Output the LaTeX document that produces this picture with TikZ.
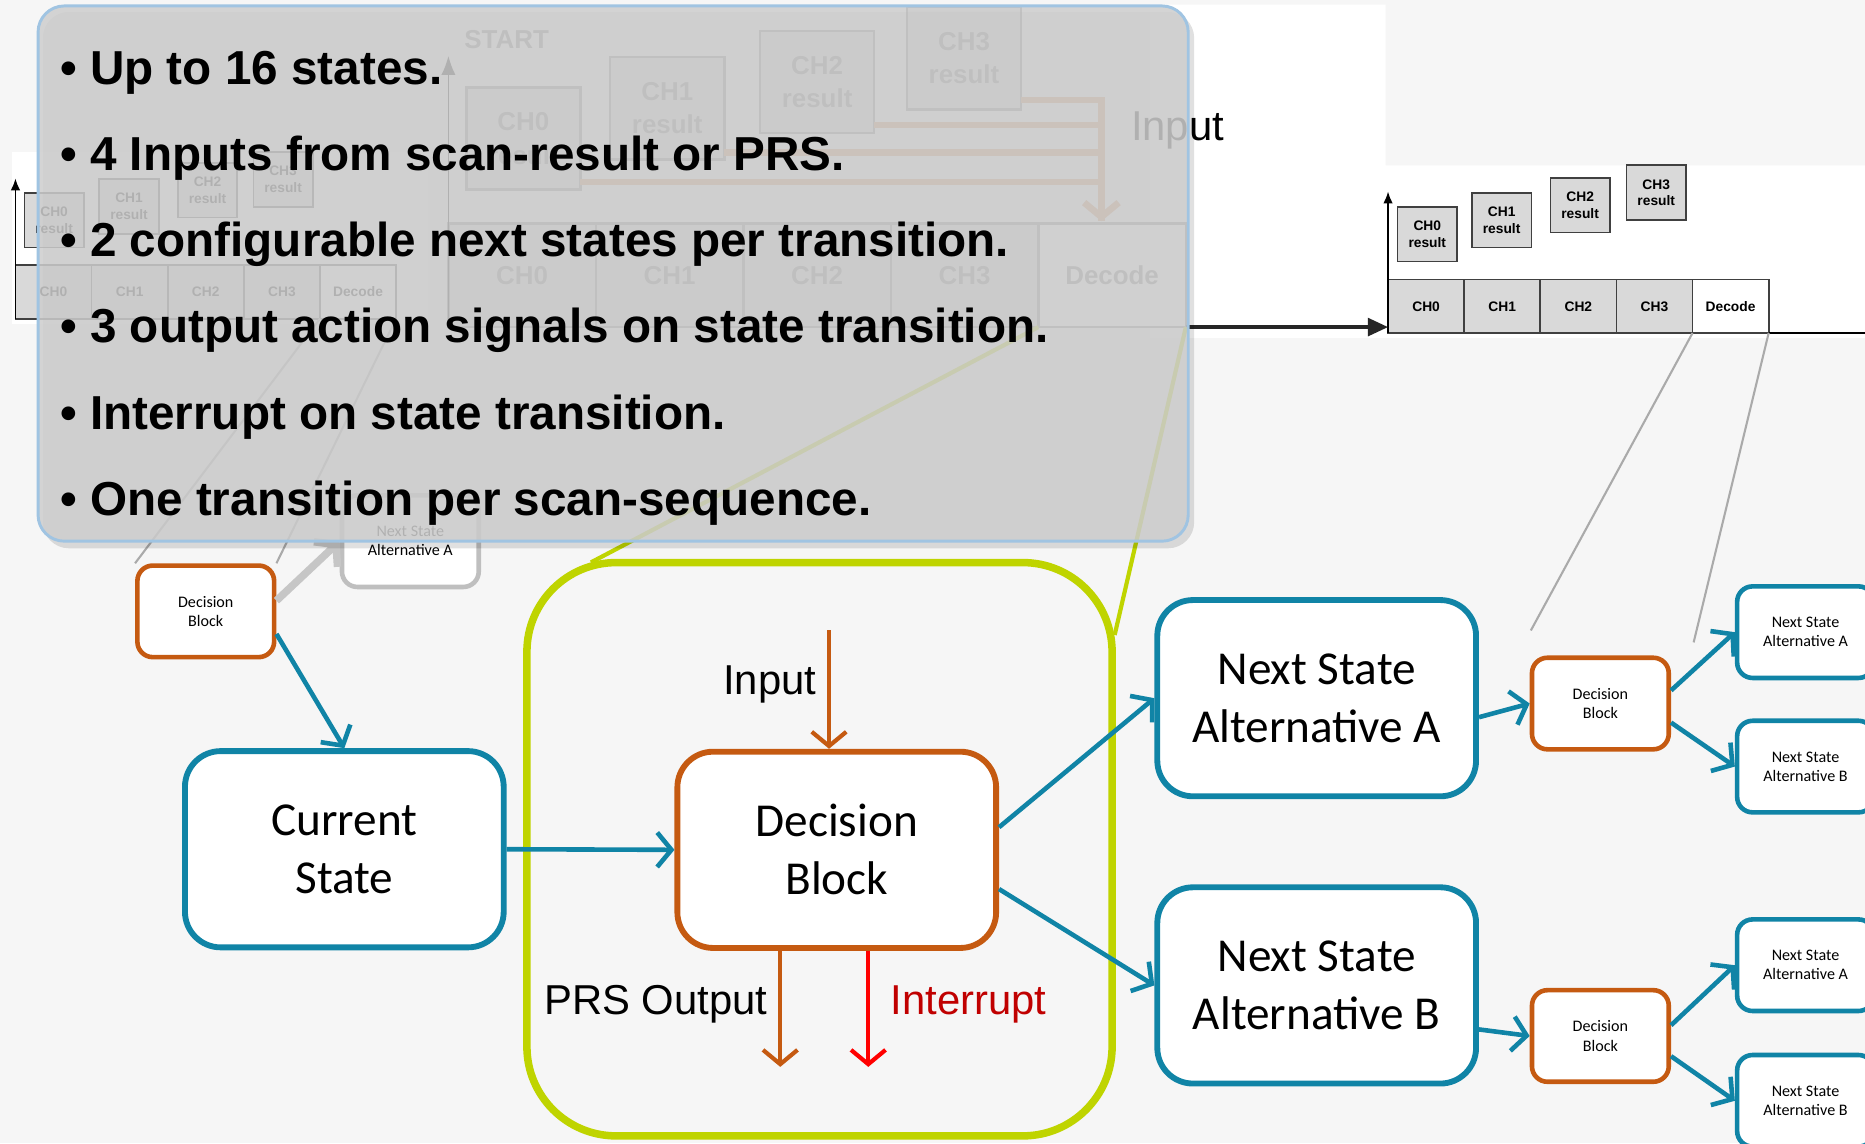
\documentclass[tikz,border=0pt]{standalone}
\usepackage{fontspec}
\setmainfont{Liberation Sans}
\newfontfamily\calibri{Carlito}
\usepackage{tikz}
\usetikzlibrary{positioning}
\usetikzlibrary{arrows.meta, calc}

\definecolor{stateblue}{RGB}{16,132,166}
\definecolor{decorange}{RGB}{197,90,17}
\definecolor{grpgreen}{RGB}{191,212,0}
\definecolor{bggray}{RGB}{246,246,246}
\definecolor{ovlgray}{RGB}{206,206,206}
\definecolor{ovlborder}{RGB}{160,196,226}
\definecolor{intred}{RGB}{192,0,0}
\definecolor{cellgray}{RGB}{217,217,217}
\definecolor{linegray}{RGB}{170,170,170}

\tikzset{
    statebox/.style={draw=stateblue, line width=1.4pt, fill=white, rounded corners=3mm, align=center, inner sep=0,
        font=\calibri\fontsize{11.3}{13.9}\selectfont, minimum width=26.8mm, minimum height=16.5mm},
    decbox/.style={statebox, draw=decorange},
    smallstatebox/.style={draw=stateblue, line width=1.1pt, fill=white, rounded corners=1.3mm, align=center, inner sep=0,
        font=\calibri\fontsize{3.85}{4.6}\selectfont, minimum width=11.5mm, minimum height=7.7mm},
    smalldecbox/.style={smallstatebox, draw=decorange},
    flowarrow/.style={->, draw=stateblue, line width=1.1pt},
    sigarrow/.style={->, draw=decorange, line width=1pt},
    sigtext/.style={inner sep=0.9mm, font=\fontsize{10}{12}\selectfont},
    bulletline/.style={anchor=base west, inner sep=0, font=\bfseries\fontsize{11.4}{13}\selectfont},
    smcell/.style={draw=black!75, fill=cellgray, line width=0.4pt, inner sep=0, outer sep=0,
        minimum width=6.4mm, minimum height=4.5mm, font=\bfseries\fontsize{3.3}{4}\selectfont},
    smres/.style={smcell, minimum width=5mm, minimum height=4.6mm, align=center},
    bigcell/.style={draw=black!50, fill=cellgray, line width=0.6pt, inner sep=0, outer sep=0, text=black!55,
        minimum width=12.4mm, minimum height=8.7mm, font=\bfseries\fontsize{6.2}{8}\selectfont},
    bigres/.style={bigcell, minimum width=9.6mm, minimum height=8.6mm, align=center},
    axisarrow/.style={-{Latex[length=1mm,width=0.8mm]}, line width=0.4pt}
}

\begin{document}
\begin{tikzpicture}[x=0.1mm, y=-0.1mm, >={Straight Barb[length=1.2mm,width=2.9mm]}]
    % Fondo y zonas blancas
    \useasboundingbox (0,0) rectangle (1568,961);
    \fill[bggray] (0,0) rectangle (1568,961);
    \fill[white] (967,4) -- (1165,4) -- (1165,139) -- (1568,139) -- (1568,284) -- (967,284) -- cycle;
    \fill[white] (10,128) rectangle (360,272);

    % Diagrama grande (debajo del recuadro)
    \node[bigcell] (bc0) at (439,231.5) {CH0};
    \node[bigcell, right=0pt of bc0] (bc1) {CH1};
    \node[bigcell, right=0pt of bc1] (bc2) {CH2};
    \node[bigcell, right=0pt of bc2] (bc3) {CH3};
    \node[bigcell, right=0pt of bc3, fill=white] (bc4) {Decode};
    \node[bigres] (br0) at (440,116.5) {CH0\\result};
    \node[bigres] (br1) at (561,91) {CH1\\result};
    \node[bigres] (br2) at (687,69) {CH2\\result};
    \node[bigres] (br3) at (810.5,49) {CH3\\result};
    \node[text=black!55, font=\bfseries\fontsize{6.2}{8}\selectfont] (start) at (426,33) {START};
    \draw[axisarrow, -{Latex[length=1.6mm,width=1.2mm]}] (bc0.south west) -- ++(0,-228);
    \coordinate (bigIn) at (926,186);
    \draw[decorange!70, line width=1.6pt] ($(br2.east)+(0,36)$) -| (bigIn);
    \draw[decorange!70, line width=1.6pt] ($(br1.east)+(0,37)$) -| (bigIn);
    \draw[decorange!70, line width=1.6pt] ($(br0.east)+(0,36.5)$) -| (bigIn);
    \draw[decorange!70, line width=1.6pt, ->] ($(br3.east)+(0,35)$) -| (bigIn);
    \node[sigtext] (topIn) at (990,110) {Input};

    % Diagrama pequeno izquierdo
    \node[smcell] (lc0) at (45,245.5) {CH0};
    \node[smcell, right=0pt of lc0] (lc1) {CH1};
    \node[smcell, right=0pt of lc1] (lc2) {CH2};
    \node[smcell, right=0pt of lc2] (lc3) {CH3};
    \node[smcell, right=0pt of lc3, fill=white] (lc4) {Decode};
    \node[smres] (lr0) at (45.5,185) {CH0\\result};
    \node[smres] (lr1) at (108.5,173.5) {CH1\\result};
    \node[smres] (lr2) at (174.5,160) {CH2\\result};
    \node[smres] (lr3) at (238,151) {CH3\\result};
    \draw[axisarrow] (lc0.south west) -- ++(0,-118);

    % Diagrama pequeno derecho
    \node[smcell] (rc0) at (1199,257.5) {CH0};
    \node[smcell, right=0pt of rc0] (rc1) {CH1};
    \node[smcell, right=0pt of rc1] (rc2) {CH2};
    \node[smcell, right=0pt of rc2] (rc3) {CH3};
    \node[smcell, right=0pt of rc3, fill=white] (rc4) {Decode};
    \node[smres] (rr0) at (1200,197) {CH0\\result};
    \node[smres] (rr1) at (1262.5,185) {CH1\\result};
    \node[smres] (rr2) at (1328.5,172.5) {CH2\\result};
    \node[smres] (rr3) at (1392.5,162) {CH3\\result};
    \draw[axisarrow] (rc0.south west) -- ++(0,-119);
    \draw[line width=0.4pt] (rc4.south east) -- ++(100,0);
    \draw[-{Triangle[length=1.7mm,width=1.5mm]}, line width=0.8pt, black!85] (bc4.south east) -- (bc4.south east -| rc0.west);

    % Bloques principales
    \node[smalldecbox] (decL) at (173,514) {Decision\\Block};
    \node[smallstatebox, draw=gray!50] (nsGray) at (345,455) {Next State\\Alternative A};
    \node[statebox] (cur) at (289.5,714) {Current\\State};
    \node[draw=grpgreen, line width=1.8pt, rounded corners=7.5mm, minimum width=49.2mm, minimum height=48.2mm] (grp) at (689,714) {};
    \node[decbox] (dec) at (703.5,714.5) {Decision\\Block};
    \node[statebox] (nsA) at (1107,587) {Next State\\Alternative A};
    \node[statebox] (nsB) at (1107,828.5) {Next State\\Alternative B};
    \node[smalldecbox] (sdA) at (1345.5,591.5) {Decision\\Block};
    \node[smalldecbox] (sdB) at (1345.5,871) {Decision\\Block};
    \node[smallstatebox] (naa) at (1518,531.5) {Next State\\Alternative A};
    \node[smallstatebox] (nab) at (1518,644.5) {Next State\\Alternative B};
    \node[smallstatebox] (nba) at (1518,811.5) {Next State\\Alternative A};
    \node[smallstatebox] (nbb) at (1518,925.5) {Next State\\Alternative B};

    % Lineas de detalle
    \coordinate (gLeft) at ($(grp.north west)+(57,3)$);
    \coordinate (gRight) at ($(grp.north east)+(-1,64)$);
    \draw[grpgreen, line width=1pt] (bc3.south east) -- (gLeft);
    \draw[grpgreen, line width=1pt] (bc4.south east) -- (gRight);
    \draw[linegray, line width=0.5pt] (lc3.south east) -- (decL.north west);
    \draw[linegray, line width=0.5pt] (lc4.south east) -- (decL.north east);
    \coordinate (sdAl) at ($(sdA.north west)+(1,-21)$);
    \coordinate (sdAr) at ($(sdA.north east)+(19,-11)$);
    \draw[linegray, line width=0.5pt] (rc3.south east) -- (sdAl);
    \draw[linegray, line width=0.5pt] (rc4.south east) -- (sdAr);
    \draw[->, draw=gray!45, line width=1.8pt] ($(decL.east)+(0,-9)$) -- (nsGray.west);

    % Recuadro de texto
    \fill[black, opacity=0.12, rounded corners=2.2mm] (36,10) rectangle (1004,461);
    \draw[draw=ovlborder, line width=0.7pt, fill=ovlgray, fill opacity=0.86, rounded corners=2.2mm] (32,5) rectangle (999,455);
    \node[bulletline] (b1) at (50,71) {\textbullet\ Up to 16 states.};
    \node[bulletline] (b2) at (50,143) {\textbullet\ 4 Inputs from scan-result or PRS.};
    \node[bulletline] (b3) at (50,216) {\textbullet\ 2 configurable next states per transition.};
    \node[bulletline] (b4) at (50,288) {\textbullet\ 3 output action signals on state transition.};
    \node[bulletline] (b5) at (50,361) {\textbullet\ Interrupt on state transition.};
    \node[bulletline] (b6) at (50,433) {\textbullet\ One transition per scan-sequence.};

    % Flechas
    \draw[flowarrow] ($(decL.east)+(0,19)$) -- (cur.north);
    \draw[flowarrow] (cur.east) -- (dec.west);
    \draw[flowarrow] ($(dec.east)+(0,-19)$) -- (nsA.west);
    \draw[flowarrow] ($(dec.east)+(0,33)$) -- (nsB.west);
    \draw[flowarrow] ($(nsA.east)+(0,16)$) -- (sdA.west);
    \draw[flowarrow] ($(sdA.east)+(0,-11)$) -- (naa.west);
    \draw[flowarrow] ($(sdA.east)+(0,16)$) -- (nab.west);
    \draw[flowarrow] ($(nsB.east)+(0,37)$) -- (sdB.west);
    \draw[flowarrow] ($(sdB.east)+(0,-9)$) -- (nba.west);
    \draw[flowarrow] ($(sdB.east)+(0,17)$) -- (nbb.west);

    % Entradas y salidas
    \coordinate (inTop) at (697,530);
    \draw[sigarrow] (inTop) -- (inTop |- dec.north) node[pos=0.46, left, sigtext] (inLbl) {Input};
    \coordinate (prsEnd) at (656,897);
    \draw[sigarrow] (prsEnd |- dec.south) -- (prsEnd) node[pos=0.46, left, sigtext] (prsLbl) {PRS Output};
    \coordinate (intEnd) at (730,897);
    \draw[sigarrow, draw=red] (intEnd |- dec.south) -- (intEnd) node[pos=0.46, right, sigtext, text=intred, inner sep=1.7mm] (intLbl) {Interrupt};
\end{tikzpicture}
\end{document}
